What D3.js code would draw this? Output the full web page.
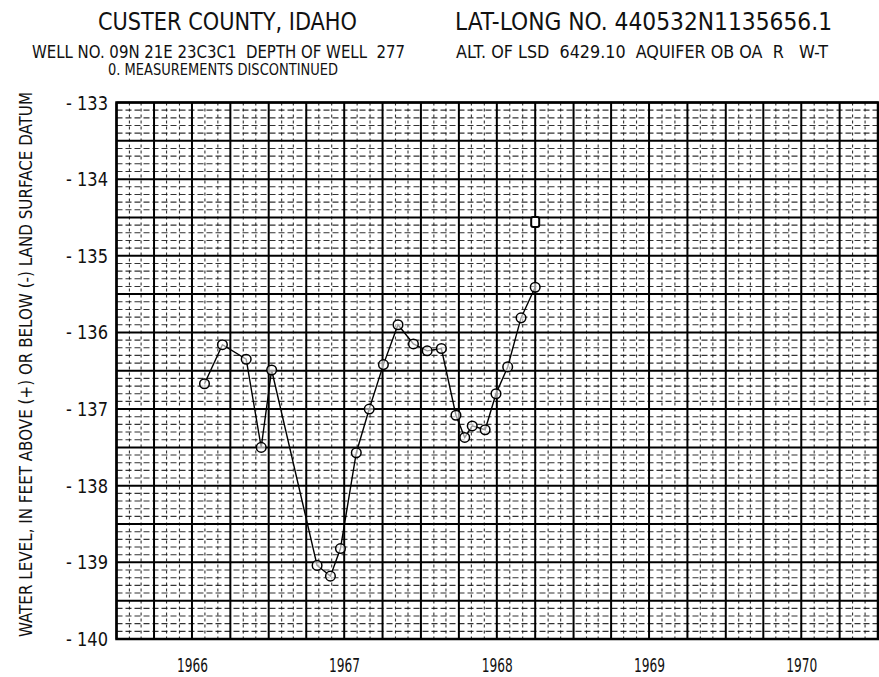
<!DOCTYPE html>
<html><head><meta charset="utf-8">
<script src="https://cdn.jsdelivr.net/npm/d3@7"></script>
<style>
html,body{margin:0;padding:0;background:#fff;overflow:hidden;}
text{font-family:"DejaVu Sans Condensed","Liberation Sans Narrow","DejaVu Sans",sans-serif;fill:#111;white-space:pre;}
</style></head>
<body><svg id="c" width="879" height="677"></svg>
<script>
// ---- data ----
const dates = ["1966-07-31","1966-09-12","1966-11-08","1966-12-14","1967-01-08","1967-04-27","1967-05-29","1967-06-22","1967-07-30","1967-08-30","1967-10-03","1967-11-07","1967-12-14","1968-01-16","1968-02-19","1968-03-25","1968-04-15","1968-05-03","1968-06-03","1968-06-29","1968-07-27","1968-08-28","1968-10-01"];
const levels = [136.67,136.16,136.35,137.50,136.49,139.04,139.18,138.82,137.57,137.00,136.42,135.90,136.15,136.24,136.21,137.08,137.37,137.22,137.27,136.80,136.45,135.81,135.41];
const discDates = ["1968-10-01"];
const discLevels = [134.56];
const yTicks = [133,134,135,136,137,138,139,140];
const yearLabels = ["1966","1967","1968","1969","1970"];
const titleLines = [
  {t:"CUSTER COUNTY, IDAHO", x:98, y:30, w:259, fs:24},
  {t:"LAT-LONG NO. 440532N1135656.1", x:455, y:30, w:377, fs:24},
  {t:"WELL NO. 09N 21E 23C3C1  DEPTH OF WELL  277", x:32, y:58, w:373, fs:17},
  {t:"ALT. OF LSD  6429.10  AQUIFER OB OA  R   W-T", x:456, y:58, w:372, fs:17},
  {t:"0. MEASUREMENTS DISCONTINUED", x:108, y:75, w:230, fs:15}
];
const yTitle = "WATER LEVEL, IN FEET ABOVE (+) OR BELOW (-) LAND SURFACE DATUM";

const parse = d3.timeParse("%Y-%m-%d");
const svg = d3.select("#c");
const L=116.5, R=878, T=102.5, B=639;
const x = d3.scaleTime().domain([new Date(1966,0,1), new Date(1971,0,1)]).range([L,R]);
const y = d3.scaleLinear().domain([133,140]).range([T,B]);

// minor grid
const g = svg.append("g");
const months = d3.timeMonth.range(new Date(1966,0,1), new Date(1971,0,1)).filter(d=>d.getMonth()%3!==0);
g.selectAll(".vm").data(months).join("line")
  .attr("x1",d=>x(d)).attr("x2",d=>x(d)).attr("y1",T).attr("y2",B)
  .attr("stroke","#111").attr("stroke-width",1.1).attr("stroke-dasharray","3,3").attr("opacity",0.85);
const tenths = d3.range(133,140.001,0.1).map(v=>+v.toFixed(1)).filter(v=>Math.abs(v*2-Math.round(v*2))>0.01);
g.selectAll(".hm").data(tenths).join("line")
  .attr("y1",d=>y(d)).attr("y2",d=>y(d)).attr("x1",L).attr("x2",R)
  .attr("stroke","#111").attr("stroke-width",1.1).attr("stroke-dasharray","6,3").attr("opacity",0.85);
// major grid
const quarters = d3.timeMonth.every(3).range(new Date(1966,0,1), new Date(1971,0,2));
g.selectAll(".vM").data(quarters).join("line")
  .attr("x1",d=>x(d)).attr("x2",d=>x(d)).attr("y1",T).attr("y2",B)
  .attr("stroke","#000").attr("stroke-width",2);
const halves = d3.range(133,140.001,0.5);
g.selectAll(".hM").data(halves).join("line")
  .attr("y1",d=>y(d)).attr("y2",d=>y(d)).attr("x1",L).attr("x2",R)
  .attr("stroke","#000").attr("stroke-width",2);
svg.append("rect").attr("x",L).attr("y",T).attr("width",R-L).attr("height",B-T)
  .attr("fill","none").attr("stroke","#000").attr("stroke-width",2.5);

// y axis labels
svg.append("g").selectAll("text").data(yTicks).join("text")
  .attr("x",108).attr("y",d=>y(d)+7).attr("text-anchor","end")
  .attr("font-size",19).attr("textLength",42).attr("lengthAdjust","spacingAndGlyphs").text(d=>"- "+d);

// x year labels
svg.append("g").selectAll("text").data(yearLabels).join("text")
  .attr("x",d=>x(new Date(+d,6,2))).attr("y",672).attr("text-anchor","middle")
  .attr("font-size",19).attr("textLength",31).attr("lengthAdjust","spacingAndGlyphs").text(d=>d);

// titles
svg.append("g").selectAll("text").data(titleLines).join("text")
  .attr("x",d=>d.x).attr("y",d=>d.y).attr("font-size",d=>d.fs)
  .attr("textLength",d=>d.w).attr("lengthAdjust","spacingAndGlyphs").text(d=>d.t);

// y title
svg.append("text").attr("transform","translate(32,637) rotate(-90)")
  .attr("font-size",18).attr("textLength",545).attr("lengthAdjust","spacingAndGlyphs").text(yTitle);

// series
const pts = dates.map((d,i)=>({d:parse(d), v:levels[i]}));
svg.append("path").datum(pts)
  .attr("d", d3.line().x(p=>x(p.d)).y(p=>y(p.v)))
  .attr("fill","none").attr("stroke","#000").attr("stroke-width",1.4);
svg.append("g").selectAll("circle").data(pts).join("circle")
  .attr("cx",p=>x(p.d)).attr("cy",p=>y(p.v)).attr("r",4.8)
  .attr("fill","#fff").attr("fill-opacity",0.6).attr("stroke","#000").attr("stroke-width",1.5);
const disc = discDates.map((d,i)=>({d:parse(d), v:discLevels[i]}));
svg.append("g").selectAll("rect").data(disc).join("rect")
  .attr("x",p=>x(p.d)-4).attr("y",p=>y(p.v)-5).attr("width",8).attr("height",10).attr("rx",2)
  .attr("fill","#fff").attr("stroke","#000").attr("stroke-width",2);
</script></body></html>
